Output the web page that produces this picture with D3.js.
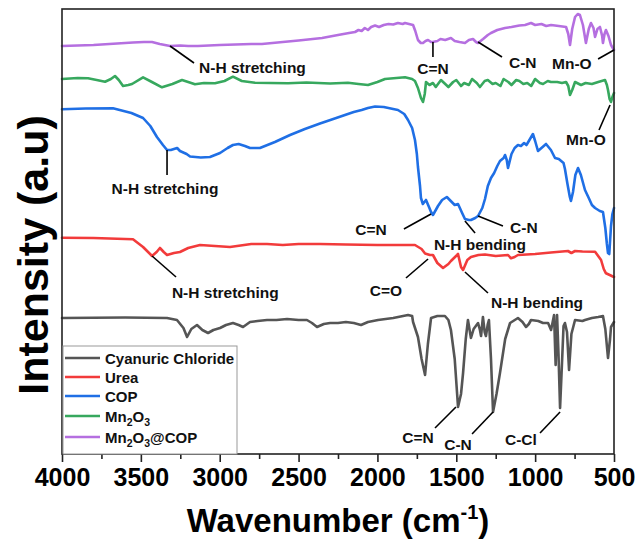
<!DOCTYPE html>
<html><head><meta charset="utf-8">
<script src="https://cdn.jsdelivr.net/npm/d3@7"></script>
<style>body{margin:0;background:#fff}svg{display:block;font-family:"Liberation Sans",Arial,sans-serif}</style>
</head><body><svg id="c" width="638" height="540"></svg>
<script>
// ---- data: [wavenumber (cm-1), intensity (a.u., offset)] ----
const seriesNames = ["Cyanuric Chloride","Urea","COP","Mn2O3","Mn2O3@COP"];
const cyanuric = [[4000,136],[3600,136.5],[3334,136],[3271,134],[3230,126],[3207,117],[3180,125],[3144,129],[3110,124],[3074,121],[3040,124],[2998,126],[2960,129],[2916,131],[2880,129],[2852,127],[2808,132],[2760,133],[2700,134],[2640,134],[2573,135],[2500,134],[2447,134],[2415,131],[2383,127],[2340,130],[2300,131],[2250,131],[2200,132],[2150,131],[2104,129],[2060,132],[1996,134],[1900,136],[1806,139],[1780,138],[1774,132],[1743,117],[1720,95],[1698,79],[1680,110],[1660,136],[1620,138],[1572,138],[1550,134],[1534,124],[1510,95],[1489,47],[1470,60],[1457,81],[1440,115],[1426,134],[1407,116],[1390,125],[1362,131],[1350,124],[1343,118],[1331,137],[1320,122],[1312,118],[1300,130],[1293,134],[1280,95],[1267,42],[1245,60],[1223,81],[1190,115],[1159,131],[1109,136],[1080,132],[1058,127],[1040,130],[1026,134],[980,133],[950,131],[918,131],[899,124],[880,139],[870,89],[861,139],[852,100],[842,46],[830,90],[820,128],[811,131],[798,122],[785,84],[770,120],[747,134],[700,133],[684,134],[640,136],[600,137],[570,138],[555,125],[538,96],[525,115],[519,127],[500,132]];
const urea = [[4000,216.3],[3800,216],[3550,214.7],[3486,207],[3429,198],[3400,202],[3379,206],[3355,202],[3334,199],[3290,201],[3252,202],[3200,206],[3125,209],[3030,208],[2935,207],[2800,210],[2700,210],[2600,209],[2500,210],[2364,210],[2200,209.5],[2000,209],[1900,209],[1762,209],[1720,205],[1698,200.5],[1667,199],[1648,199],[1620,191],[1584,186],[1550,190],[1534,193],[1495,199],[1489,200],[1470,187],[1457,184],[1430,194],[1407,197],[1360,199],[1318,199.5],[1250,198],[1172,199],[1153,195.7],[1130,197],[1109,199],[1000,200],[900,201.5],[792,203],[770,201],[747,203],[700,202.5],[620,202.3],[582,194],[565,185],[551,180.7],[500,177]];
const cop = [[4000,344.7],[3850,345.5],[3677,345.7],[3560,341],[3486,336],[3440,328],[3398,317],[3360,309],[3334,304],[3310,304],[3290,305],[3270,306],[3252,303],[3210,300],[3188,297.5],[3120,296.5],[3062,297],[2998,301],[2950,306],[2916,309],[2880,310],[2840,308],[2808,306],[2745,306],[2650,312],[2554,319],[2460,325],[2364,330.5],[2280,335],[2206,339],[2150,342],[2100,344],[2060,346],[2015,347.5],[1960,347],[1900,345],[1870,344],[1830,340],[1806,334],[1780,326],[1762,314],[1750,300],[1743,287],[1730,268],[1724,256],[1712,250],[1700,252.5],[1692,254],[1673,247],[1660,242],[1648,239],[1630,244],[1616,248],[1590,254],[1560,257],[1535,253],[1510,249],[1489,250],[1460,240],[1445,235],[1420,234],[1407,234],[1380,236],[1362,238],[1335,246],[1318,255],[1300,268],[1280,276],[1260,281],[1240,288],[1223,293],[1200,296],[1191,299],[1180,294],[1172,286],[1150,300],[1130,306],[1109,309],[1090,308],[1070,311],[1055,309],[1040,313],[1014,320],[1000,313],[982,303],[960,306],[931,310],[900,304],[874,296],[850,295],[820,291],[811,285],[795,270],[780,257],[773,253],[760,262],[745,279],[728,286],[710,279],[684,264],[660,256],[640,249],[620,246],[590,243],[570,242],[555,226],[545,210],[538,201],[530,200],[519,228],[510,240],[500,246]];
const mn2o3 = [[4000,375],[3900,376],[3835,375.7],[3780,374],[3727,372.3],[3690,375],[3664,378],[3640,374],[3613,368],[3580,369],[3556,370],[3486,376.7],[3430,372],[3366,366.7],[3300,370],[3239,374],[3200,372],[3157,369.7],[3100,371],[3030,370.7],[2970,373],[2916,377.3],[2860,373],[2776,371.3],[2680,371],[2567,370.7],[2450,371.5],[2300,370.5],[2187,371.3],[2120,370],[2060,369],[2000,372],[1952,375],[1880,376],[1825,376.7],[1780,375],[1762,373],[1743,366],[1724,356],[1711,352],[1700,360],[1692,372],[1670,369],[1648,371],[1630,367],[1597,374],[1570,370],[1550,367],[1520,372],[1500,374],[1470,368],[1450,371],[1420,369],[1400,375],[1370,371],[1350,367],[1320,373],[1300,374],[1270,370],[1250,371],[1220,368],[1200,375],[1170,372],[1150,369],[1120,374],[1100,373],[1075,370],[1050,371],[1025,368],[1000,375],[970,371],[950,370],[920,373],[900,372],[860,372],[830,371],[804,372],[790,368],[779,359],[765,364],[747,372],[709,369],[680,371],[640,370],[600,372],[557,374],[545,369],[538,364],[528,355],[519,352],[510,357],[500,361]];
const mn2o3cop = [[4000,408],[3900,408.5],[3800,409],[3700,410],[3600,411],[3550,411.5],[3480,412],[3429,412],[3380,410],[3315,408],[3250,408.5],[3200,408],[3138,408],[3000,409],[2900,409.5],[2800,410],[2732,410],[2600,412],[2500,413.5],[2351,416],[2250,419],[2180,421],[2142,422],[2120,424],[2100,423],[2080,426],[2060,424],[2040,427],[2015,428.5],[1990,427],[1960,429],[1930,430],[1900,429.5],[1870,431],[1840,430],[1825,431],[1800,430],[1774,429],[1760,423],[1743,414],[1725,411],[1711,411],[1695,413],[1679,414],[1660,412],[1648,412],[1620,413],[1600,415],[1570,414],[1534,416],[1510,413],[1480,412],[1445,411],[1420,414],[1394,415],[1375,412],[1362,411],[1330,415],[1300,419],[1280,421],[1240,424],[1191,426],[1150,427],[1100,428.5],[1064,429],[1026,431],[1000,429],[960,430],[930,428],[899,429],[850,428],[804,427],[790,420],[779,409],[765,425],[747,437],[730,440],[716,439],[697,429],[678,411],[660,425],[646,431],[630,426],[620,417],[605,425],[589,427],[575,418],[570,411],[560,420],[551,424],[535,418],[519,409],[500,404]];
const seriesData = [cyanuric, urea, cop, mn2o3, mn2o3cop];
const seriesColors = ["#555555","#f23b3b","#1f6fe5","#37a85e","#b56fe0"];
const xTicks = [4000,3500,3000,2500,2000,1500,1000,500];
const xMinorTicks = [3750,3250,2750,2250,1750,1250,750];
// annotations: label, leader line (wn,int)->(wn,int), label position (wn,int), anchor
const annotations = [
  ["N-H stretching",3315,408,3163,391,3131,387,"start"],
  ["C=N",1648,412,1648,397,1648,386,"middle"],
  ["C-N",1362,412,1210,397,1166,392,"start"],
  ["Mn-O",601,395,500,404,893,391,"start"],
  ["Mn-O",525,349,595,324,678,315,"middle"],
  ["N-H stretching",3334,304,3334,279,3347,266,"middle"],
  ["C=N",1660,240,1832,225,2041,225,"middle"],
  ["N-H bending",1445,233,1381,221,1350,210,"middle"],
  ["C-N",1362,238,1204,228,1159,227,"start"],
  ["N-H stretching",3429,198,3277,177,3303,162,"start"],
  ["C=O",1679,195,1819,176,1946,164,"middle"],
  ["N-H bending",1445,182,1299,161,1280,152,"start"],
  ["C=N",1502,47,1635,26,1743,17,"middle"],
  ["C-N",1267,42,1400,20,1489,10,"middle"],
  ["C-Cl",842,42,969,21,1090,15,"middle"]
];

// ---- layout ----
const L=62,R=614,T=9,B=454;
const svg=d3.select("#c");
const x=d3.scaleLinear().domain([4000,500]).range([L,R]);
const y=d3.scaleLinear().domain([0,445]).range([B,T]);

const line=d3.line().x(d=>x(d[0])).y(d=>y(d[1])).curve(d3.curveLinear);
seriesData.forEach((s,i)=>{
  svg.append("path").datum(s).attr("d",line).attr("fill","none")
    .attr("stroke",seriesColors[i]).attr("stroke-width",2.6)
    .attr("stroke-linejoin","round").attr("stroke-linecap","round");
});

// frame
svg.append("rect").attr("x",L).attr("y",T).attr("width",R-L).attr("height",B-T)
  .attr("fill","none").attr("stroke","#222").attr("stroke-width",1.6);

// x axis
const ax=svg.append("g").attr("transform",`translate(0,${B})`)
  .call(d3.axisBottom(x).tickValues(xTicks).tickSize(8).tickPadding(6).tickFormat(d3.format("d")));
ax.select(".domain").remove();
ax.selectAll("line").attr("stroke","#222").attr("stroke-width",1.6);
ax.selectAll("text").attr("font-size",25).attr("font-weight","bold").attr("fill","#000")
  .attr("font-family","Liberation Sans, Arial, sans-serif");
const axm=svg.append("g").attr("transform",`translate(0,${B})`)
  .call(d3.axisBottom(x).tickValues(xMinorTicks).tickSize(5).tickFormat(""));
axm.select(".domain").remove();
axm.selectAll("line").attr("stroke","#222").attr("stroke-width",1.6);

// axis titles
const xt=svg.append("text").attr("x",(L+R)/2).attr("y",532).attr("text-anchor","middle")
  .attr("font-size",33).attr("font-weight","bold").attr("fill","#000");
xt.append("tspan").text("Wavenumber (cm");
xt.append("tspan").text("-1").attr("font-size",20).attr("dy",-13);
xt.append("tspan").text(")").attr("dy",13);
svg.append("text").attr("transform",`translate(48,255) rotate(-90)`)
  .attr("text-anchor","middle").attr("font-size",43).attr("font-weight","bold")
  .attr("fill","#000").text("Intensity (a.u)");

// annotations
const ag=svg.append("g");
annotations.forEach(a=>{
  ag.append("line").attr("x1",x(a[1])).attr("y1",y(a[2])).attr("x2",x(a[3])).attr("y2",y(a[4]))
    .attr("stroke","#000").attr("stroke-width",1.6);
  ag.append("text").attr("x",x(a[5])).attr("y",y(a[6])).attr("text-anchor",a[7])
    .attr("dominant-baseline","central").attr("font-size",15.5).attr("font-weight","bold")
    .attr("fill","#111").text(a[0]);
});

// legend
const lg=svg.append("g");
lg.append("rect").attr("x",63).attr("y",346).attr("width",174).attr("height",108)
  .attr("fill","#fff").attr("stroke","#999").attr("stroke-width",1);
const rowY=[358,377,396,416,437];
seriesNames.forEach((n,i)=>{
  lg.append("line").attr("x1",65).attr("x2",100).attr("y1",rowY[i]).attr("y2",rowY[i])
    .attr("stroke",seriesColors[i]).attr("stroke-width",2.6);
  const t=lg.append("text").attr("x",105).attr("y",rowY[i]+5.5)
    .attr("font-size",15).attr("font-weight","bold").attr("fill","#111");
  const parts=n.split(/(\d)/);
  let sub=false;
  parts.forEach(p=>{
    if(/^\d$/.test(p)){ t.append("tspan").text(p).attr("font-size",10.5).attr("dy",sub?0:4); sub=true; }
    else if(p){ t.append("tspan").text(p).attr("dy",sub?-4:0); sub=false; }
  });
});
</script></body></html>
